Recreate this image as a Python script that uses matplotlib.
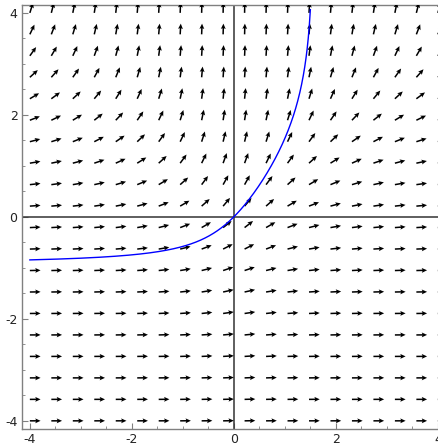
import numpy as np
import matplotlib
matplotlib.use("Agg")
import matplotlib.pyplot as plt

# grid of slope-field sample points
x_grid = np.linspace(-4, 4, 20)
y_grid = np.linspace(-4, 4, 20)

# ODE: dy/dx = e^y / (1 + x^2); solution through origin
def slope(x, y):
    return np.exp(y) / (1 + x**2)

curve_x = np.linspace(-4, 1.5, 800)
curve_y = -np.log(1 - np.arctan(curve_x))

tick_major = [-4, -2, 0, 2, 4]
tick_labels = ["-4", "-2", "0", "2", "4"]

fig = plt.figure(figsize=(4.38, 4.45), dpi=100)
ax = fig.add_axes([21.7/438, 1 - 429/445, 424.3/438, 424.3/445])
ax.set_xlim(-4.16, 4.16)
ax.set_ylim(-4.16, 4.16)

X, Y = np.meshgrid(x_grid, y_grid)
S = slope(X, Y)
L = np.sqrt(1 + S**2)
U = 0.21 / L
V = 0.21 * S / L
ax.quiver(X, Y, U, V, angles='xy', scale_units='xy', scale=1, pivot='tail',
          color='black', width=0.0036, headwidth=3.2, headlength=3.5,
          headaxislength=3.0, zorder=3)

ax.axhline(0, color='#333333', lw=1.1, zorder=2)
ax.axvline(0, color='#333333', lw=1.1, zorder=2)

ax.plot(curve_x, curve_y, color='#0000ff', lw=1.0, zorder=4)

for s in ax.spines.values():
    s.set_color('#808080')
    s.set_linewidth(1.0)

ax.set_xticks(tick_major)
ax.set_xticklabels(tick_labels)
ax.set_yticks(tick_major)
ax.set_yticklabels(tick_labels)
ax.set_xticks(np.arange(-4, 4.01, 0.5), minor=True)
ax.set_yticks(np.arange(-4, 4.01, 0.5), minor=True)
ax.tick_params(which='major', direction='in', length=4, width=0.8, color='#808080',
               labelsize=9, labelcolor='#222222', pad=3)
ax.tick_params(which='minor', direction='in', length=2, width=0.6, color='#808080')

fig.savefig("out.png", dpi=100)
